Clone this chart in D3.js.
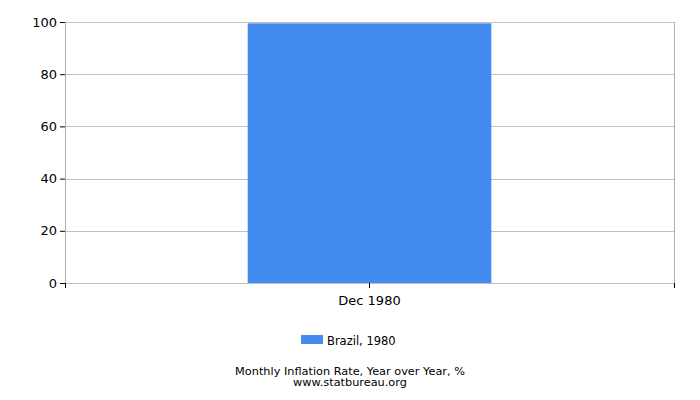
<!DOCTYPE html>
<html>
<head>
<meta charset="utf-8">
<script src="https://cdn.jsdelivr.net/npm/d3@7"></script>
<style>
  body { margin: 0; background: #fff; }
  text { font-family: "DejaVu Sans", sans-serif; }
</style>
</head>
<body>
<svg id="chart" width="700" height="400"></svg>
<script>
// ── Data ─────────────────────────────────────────────────────────────────
const categories = ["Dec 1980"];
const values = [99.5];
const yTicks = [0, 20, 40, 60, 80, 100];
const seriesName = "Brazil, 1980";

const margin = { top: 22, right: 26, bottom: 117, left: 65 };
const width = 700, height = 400;
const innerW = width - margin.left - margin.right;
const innerH = height - margin.top - margin.bottom;

const svg = d3.select("#chart");
const g = svg.append("g").attr("transform", `translate(${margin.left},${margin.top})`);

const x = d3.scaleBand().domain(categories).range([0, innerW]).paddingInner(0).paddingOuter(0.75);
const y = d3.scaleLinear().domain([0, 100]).range([innerH, 0]);

// grid
g.selectAll(".grid")
  .data(yTicks)
  .join("line")
  .attr("x1", 0).attr("x2", innerW)
  .attr("y1", (d) => Math.round(y(d)) + 0.5).attr("y2", (d) => Math.round(y(d)) + 0.5)
  .attr("stroke", "#c0c0c0");

// right border
g.append("line")
  .attr("x1", innerW + 0.5).attr("x2", innerW + 0.5)
  .attr("y1", 0).attr("y2", innerH)
  .attr("stroke", "#b0b0b0");

// bars
g.selectAll(".bar")
  .data(values)
  .join("rect")
  .attr("x", (d, i) => x(categories[i]))
  .attr("width", x.bandwidth())
  .attr("y", (d) => y(d))
  .attr("height", (d) => innerH - y(d))
  .attr("fill", "#428bef");

// y axis
const yAxis = g.append("g")
  .call(d3.axisLeft(y).tickValues(yTicks).tickSize(5).tickPadding(3));
yAxis.select(".domain").attr("stroke", "#b0b0b0").attr("d", `M0.5,0V${innerH}`);
yAxis.selectAll(".tick line").attr("stroke", "#000");
yAxis.selectAll("text").attr("font-size", 13).attr("fill", "#000");

// x axis
const xAxis = g.append("g")
  .attr("transform", `translate(0,${innerH})`)
  .call(d3.axisBottom(x).tickSize(5).tickPadding(8));
xAxis.select(".domain").remove();
xAxis.selectAll(".tick line").attr("stroke", "#000");
xAxis.selectAll("text").attr("font-size", 13).attr("fill", "#000");
[0, innerW].forEach((px) => {
  xAxis.append("line")
    .attr("x1", px + 0.5).attr("x2", px + 0.5)
    .attr("y1", 0).attr("y2", 5)
    .attr("stroke", "#000");
});

// legend
svg.append("rect")
  .attr("x", 301).attr("y", 335)
  .attr("width", 22).attr("height", 9)
  .attr("fill", "#428bef");
svg.append("text")
  .attr("x", 327).attr("y", 344.5)
  .attr("font-size", 11.5)
  .text(seriesName);

// captions
svg.append("text")
  .attr("x", 350).attr("y", 374.5)
  .attr("text-anchor", "middle")
  .attr("font-size", 11.3)
  .text("Monthly Inflation Rate, Year over Year, %");
svg.append("text")
  .attr("x", 350).attr("y", 386)
  .attr("text-anchor", "middle")
  .attr("font-size", 11.3)
  .text("www.statbureau.org");
</script>
</body>
</html>
